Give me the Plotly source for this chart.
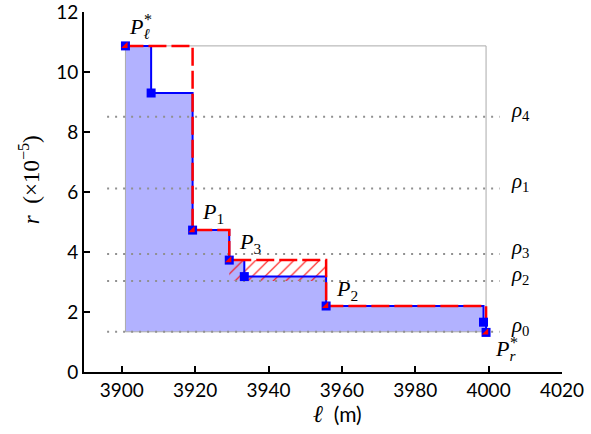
import plotly.graph_objects as go

# ---------------- data ----------------
step_l = [3901.0, 3908.0, 3919.3, 3929.3, 3933.4, 3955.7, 3998.6, 3999.3]
step_r = [10.87, 9.30, 4.73, 3.73, 3.18, 2.20, 1.66, 1.32]

env_l = [3901.0, 3919.3, 3929.3, 3955.7, 3999.3]
env_r = [10.87, 4.73, 3.73, 2.20, 1.32]
env_labels = ["<i>P</i><sub><i>ℓ</i></sub>", "<i>P</i><sub>1</sub>", "<i>P</i><sub>3</sub>",
              "<i>P</i><sub>2</sub>", "<i>P</i><sub><i>r</i></sub>"]
env_star = [True, False, False, False, True]

rho_names = ["<i>ρ</i><sub>0</sub>", "<i>ρ</i><sub>1</sub>", "<i>ρ</i><sub>2</sub>",
             "<i>ρ</i><sub>3</sub>", "<i>ρ</i><sub>4</sub>"]
rho_vals = [1.34, 6.12, 3.03, 3.93, 8.51]
rho_span = [3896.0, 4003.0]

hatch_l = [3929.3, 3955.7]
hatch_r = [3.03, 3.73]

x_ticks = [3900, 3920, 3940, 3960, 3980, 4000, 4020]
y_ticks = [0, 2, 4, 6, 8, 10, 12]
x_range = [3889.7, 4020.0]
y_range = [0, 12.0]


def hv_vertices(xs, ys):
    vx, vy = [xs[0]], [ys[0]]
    for i in range(1, len(xs)):
        vx += [xs[i], xs[i]]
        vy += [ys[i - 1], ys[i]]
    return vx, vy


SERIF = "Liberation Serif, DejaVu Serif, serif"
SANS = "Lato, Liberation Sans, sans-serif"

fig = go.Figure()

# blue filled area under the step curve
fx, fy = hv_vertices(step_l, step_r)
base = rho_vals[0]
fx_poly = fx + [step_l[-1], step_l[0]]
fy_poly = fy + [base, base]
fig.add_trace(go.Scatter(x=fx_poly, y=fy_poly, fill="toself", mode="lines",
                         line=dict(width=0), fillcolor="rgba(0,0,255,0.30)",
                         hoverinfo="skip", showlegend=False))

# hatched region
fig.add_trace(go.Scatter(
    x=[hatch_l[0], hatch_l[1], hatch_l[1], hatch_l[0], hatch_l[0]],
    y=[hatch_r[0], hatch_r[0], hatch_r[1], hatch_r[1], hatch_r[0]],
    fill="toself", mode="lines", line=dict(width=0),
    fillcolor="rgba(0,0,0,0)",
    fillpattern=dict(shape="/", fgcolor="red", bgcolor="rgba(0,0,0,0)",
                     size=9, solidity=0.12, fgopacity=1),
    hoverinfo="skip", showlegend=False))

# gray bounding rectangle
bx0, bx1 = step_l[0], env_l[-1]
by0, by1 = base, step_r[0]
fig.add_trace(go.Scatter(x=[bx0, bx1, bx1, bx0, bx0], y=[by0, by0, by1, by1, by0],
                         mode="lines", line=dict(color="#aaaaaa", width=1),
                         hoverinfo="skip", showlegend=False))

# dotted rho levels
for v in rho_vals:
    fig.add_trace(go.Scatter(x=rho_span, y=[v, v], mode="lines",
                             line=dict(color="#909090", width=2, dash="2px,6px"),
                             hoverinfo="skip", showlegend=False))

# blue step line
fig.add_trace(go.Scatter(x=step_l, y=step_r, mode="lines", line_shape="hv",
                         line=dict(color="#0000ff", width=2),
                         hoverinfo="skip", showlegend=False))
# red dashed envelope
fig.add_trace(go.Scatter(x=env_l, y=env_r, mode="lines", line_shape="hv",
                         line=dict(color="#ff0000", width=2.5, dash="18px,5px"),
                         hoverinfo="skip", showlegend=False))
# markers
fig.add_trace(go.Scatter(x=step_l, y=step_r, mode="markers",
                         marker=dict(symbol="square", size=9, color="#0000ff"),
                         hoverinfo="skip", showlegend=False))
fig.add_trace(go.Scatter(x=env_l, y=env_r, mode="markers",
                         marker=dict(symbol="triangle-se", size=7, color="#ff0000"),
                         hoverinfo="skip", showlegend=False))

annotations = []
# point labels
shifts = [(14, 18), (20, 17), (21, 17), (21, 16), (19, -18)]
for lab, star, xv, yv, (dx, dy) in zip(env_labels, env_star, env_l, env_r, shifts):
    annotations.append(dict(x=xv, y=yv, xref="x", yref="y", text=lab, showarrow=False,
                            xanchor="center", yanchor="middle", xshift=dx, yshift=dy,
                            font=dict(family=SERIF, size=22, color="black")))
    if star:
        annotations.append(dict(x=xv, y=yv, xref="x", yref="y", text="*", showarrow=False,
                                xanchor="center", yanchor="middle", xshift=dx + 9, yshift=dy + 8,
                                font=dict(family=SERIF, size=16, color="black")))
# rho labels
for lab, v in zip(rho_names, rho_vals):
    annotations.append(dict(x=rho_span[1], y=v, xref="x", yref="y", text=lab, showarrow=False,
                            xanchor="left", yanchor="middle", xshift=9, yshift=6,
                            font=dict(family=SERIF, size=21, color="black")))
# axis titles
annotations.append(dict(x=0.531, y=-0.118, xref="paper", yref="paper",
                        xanchor="center", yanchor="middle",
                        text="<span style='font-family:Liberation Serif;font-size:24px'><i>ℓ</i></span>  (m)",
                        showarrow=False, font=dict(family=SANS, size=21, color="black")))
annotations.append(dict(x=-0.115, y=0.533, xref="paper", yref="paper",
                        xanchor="center", yanchor="middle",
                        text="<i>r</i>  (×10<sup>−5</sup>)", textangle=-90,
                        showarrow=False, font=dict(family=SERIF, size=23, color="black")))

fig.update_layout(
    width=591, height=434,
    margin=dict(l=84, r=29, t=12, b=62, autoexpand=False),
    paper_bgcolor="white", plot_bgcolor="white",
    showlegend=False,
    annotations=annotations,
    xaxis=dict(range=x_range, tickmode="array", tickvals=x_ticks,
               ticks="inside", ticklen=6, tickwidth=1.5, tickcolor="black",
               showline=True, linecolor="black", linewidth=2,
               showgrid=False, zeroline=False, automargin=False,
               ticklabeloverflow="allow",
               tickfont=dict(family=SANS, size=19, color="black")),
    yaxis=dict(range=y_range, tickmode="array", tickvals=y_ticks,
               ticks="inside", ticklen=6, tickwidth=1.5, tickcolor="black",
               showline=True, linecolor="black", linewidth=2,
               showgrid=False, zeroline=False, automargin=False,
               ticklabeloverflow="allow",
               tickfont=dict(family=SANS, size=19, color="black")),
)

fig.write_html("out.html", config={"displayModeBar": False},
               post_script="document.body.style.margin='0';")
